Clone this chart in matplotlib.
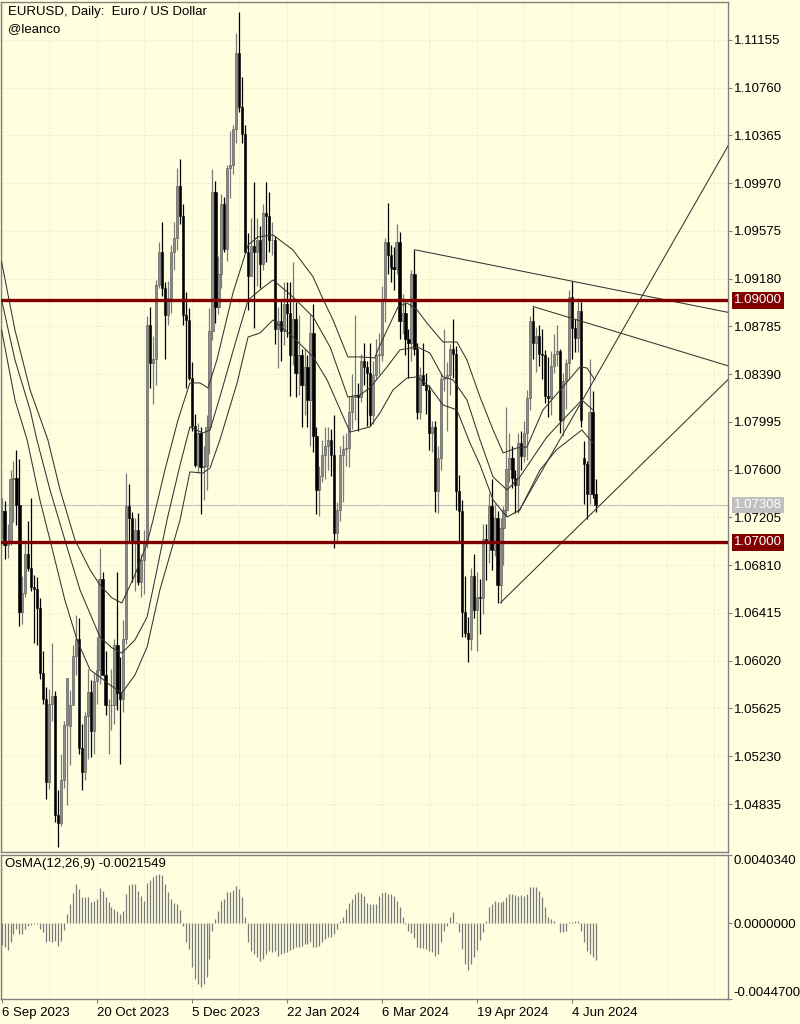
import numpy as np
import matplotlib
matplotlib.use('Agg')
import matplotlib.pyplot as plt
import matplotlib.transforms as mtransforms

plt.rcParams['font.family'] = ['Liberation Sans', 'DejaVu Sans']

# EURUSD daily bars, 6 Sep 2023 .. 14 Jun 2024 (no bars on 25 Dec / 1 Jan)
opens = [
    1.0725, 1.0726, 1.0698, 1.0702, 1.0752, 1.0753, 1.0731, 1.0642, 1.0658, 1.0690,
    1.0679, 1.0663, 1.0661, 1.0646, 1.0592, 1.0570, 1.0502, 1.0566, 1.0573, 1.0474,
    1.0468, 1.0503, 1.0549, 1.0548, 1.0565, 1.0606, 1.0620, 1.0530, 1.0510, 1.0556,
    1.0576, 1.0544, 1.0585, 1.0594, 1.0670, 1.0590, 1.0565, 1.0565, 1.0565, 1.0615,
    1.0575, 1.0570, 1.0620, 1.0730, 1.0720, 1.0700, 1.0710, 1.0667, 1.0685, 1.0700,
    1.0880, 1.0848, 1.0852, 1.0913, 1.0940, 1.0910, 1.0888, 1.0902, 1.0940, 1.0952,
    1.0995, 1.0970, 1.0888, 1.0884, 1.0836, 1.0796, 1.0764, 1.0790, 1.0762, 1.0763,
    1.0795, 1.0875, 1.0990, 1.0895, 1.0922, 1.0980, 1.0943, 1.1010, 1.1012, 1.1042,
    1.1105, 1.1060, 1.1038, 1.0940, 1.0920, 1.0945, 1.0940, 1.0950, 1.0930, 1.0972,
    1.0970, 1.0950, 1.0950, 1.0876, 1.0883, 1.0875, 1.0897, 1.0890, 1.0855, 1.0885,
    1.0840, 1.0855, 1.0830, 1.0845, 1.0818, 1.0873, 1.0788, 1.0743, 1.0755, 1.0772,
    1.0780, 1.0785, 1.0772, 1.0708, 1.0727, 1.0772, 1.0777, 1.0778, 1.0808, 1.0820,
    1.0822, 1.0820, 1.0850, 1.0845, 1.0840, 1.0805, 1.0838, 1.0855, 1.0855, 1.0900,
    1.0948, 1.0938, 1.0928, 1.0926, 1.0948, 1.0883, 1.0890, 1.0868, 1.0865, 1.0922,
    1.0860, 1.0808, 1.0838, 1.0830, 1.0826, 1.0790, 1.0795, 1.0742, 1.0770, 1.0835,
    1.0836, 1.0838, 1.0860, 1.0856, 1.0742, 1.0726, 1.0642, 1.0625, 1.0620, 1.0672,
    1.0644, 1.0655, 1.0654, 1.0703, 1.0699, 1.0730, 1.0694, 1.0720, 1.0665, 1.0712,
    1.0727, 1.0761, 1.0770, 1.0753, 1.0747, 1.0782, 1.0771, 1.0790, 1.0819, 1.0883,
    1.0865, 1.0871, 1.0856, 1.0855, 1.0821, 1.0819, 1.0846, 1.0856, 1.0858, 1.0801,
    1.0833, 1.0848, 1.0903, 1.0877, 1.0869, 1.0891, 1.0770, 1.0765, 1.0740, 1.0808,
    1.0740]
highs = [
    1.0737, 1.0734, 1.0715, 1.0760, 1.0767, 1.0776, 1.0769, 1.0672, 1.0699, 1.0718,
    1.0737, 1.0673, 1.0671, 1.0654, 1.0610, 1.0580, 1.0579, 1.0617, 1.0577, 1.0495,
    1.0525, 1.0552, 1.0588, 1.0578, 1.0615, 1.0640, 1.0637, 1.0550, 1.0560, 1.0595,
    1.0586, 1.0592, 1.0622, 1.0695, 1.0675, 1.0610, 1.0570, 1.0595, 1.0620, 1.0675,
    1.0605, 1.0636, 1.0757, 1.0748, 1.0725, 1.0720, 1.0724, 1.0690, 1.0710, 1.0887,
    1.0895, 1.0871, 1.0917, 1.0948, 1.0965, 1.0915, 1.0916, 1.0946, 1.0965, 1.1010,
    1.1017, 1.0980, 1.0907, 1.0894, 1.0849, 1.0806, 1.0799, 1.0795, 1.0780, 1.0805,
    1.0894, 1.1009, 1.0999, 1.0937, 1.0988, 1.0986, 1.1012, 1.1040, 1.1045, 1.1121,
    1.1139, 1.1085, 1.1045, 1.0956, 1.0968, 1.0998, 1.0968, 1.0962, 1.0980, 1.0998,
    1.0990, 1.0965, 1.0953, 1.0895, 1.0900, 1.0915, 1.0915, 1.0915, 1.0932, 1.0899,
    1.0888, 1.0860, 1.0860, 1.0855, 1.0889, 1.0897, 1.0795, 1.0763, 1.0785, 1.0795,
    1.0795, 1.0794, 1.0805, 1.0733, 1.0780, 1.0789, 1.0790, 1.0821, 1.0839, 1.0888,
    1.0832, 1.0856, 1.0865, 1.0850, 1.0865, 1.0850, 1.0868, 1.0873, 1.0912, 1.0952,
    1.0981, 1.0946, 1.0944, 1.0963, 1.0957, 1.0905, 1.0899, 1.0876, 1.0925, 1.0942,
    1.0865, 1.0845, 1.0865, 1.0840, 1.0830, 1.0800, 1.0800, 1.0780, 1.0840, 1.0876,
    1.0849, 1.0864, 1.0885, 1.0862, 1.0756, 1.0735, 1.0672, 1.0638, 1.0679, 1.0690,
    1.0675, 1.0670, 1.0715, 1.0715, 1.0741, 1.0752, 1.0732, 1.0726, 1.0720, 1.0730,
    1.0812, 1.0790, 1.0780, 1.0760, 1.0790, 1.0792, 1.0800, 1.0826, 1.0887, 1.0895,
    1.0878, 1.0880, 1.0876, 1.0859, 1.0853, 1.0858, 1.0872, 1.0880, 1.0860, 1.0840,
    1.0852, 1.0909, 1.0916, 1.0885, 1.0902, 1.0899, 1.0784, 1.0767, 1.0852, 1.0825,
    1.0752]
lows = [
    1.0703, 1.0686, 1.0687, 1.0698, 1.0717, 1.0714, 1.0631, 1.0632, 1.0655, 1.0676,
    1.0660, 1.0617, 1.0615, 1.0587, 1.0566, 1.0488, 1.0496, 1.0552, 1.0469, 1.0448,
    1.0465, 1.0497, 1.0483, 1.0516, 1.0565, 1.0590, 1.0525, 1.0495, 1.0503, 1.0521,
    1.0522, 1.0525, 1.0566, 1.0583, 1.0590, 1.0557, 1.0525, 1.0545, 1.0550, 1.0561,
    1.0517, 1.0560, 1.0616, 1.0700, 1.0667, 1.0660, 1.0665, 1.0655, 1.0657, 1.0695,
    1.0828, 1.0814, 1.0830, 1.0910, 1.0904, 1.0852, 1.0880, 1.0890, 1.0925, 1.0942,
    1.0963, 1.0880, 1.0828, 1.0834, 1.0792, 1.0762, 1.0757, 1.0723, 1.0735, 1.0743,
    1.0773, 1.0867, 1.0881, 1.0889, 1.0910, 1.0940, 1.0933, 1.0985, 1.1005, 1.1030,
    1.1056, 1.1030, 1.0940, 1.0892, 1.0920, 1.0877, 1.0912, 1.0910, 1.0925, 1.0932,
    1.0940, 1.0938, 1.0864, 1.0844, 1.0850, 1.0863, 1.0870, 1.0821, 1.0847, 1.0820,
    1.0822, 1.0795, 1.0805, 1.0795, 1.0780, 1.0775, 1.0723, 1.0722, 1.0750, 1.0752,
    1.0760, 1.0755, 1.0695, 1.0701, 1.0718, 1.0733, 1.0763, 1.0762, 1.0794, 1.0801,
    1.0792, 1.0816, 1.0830, 1.0796, 1.0796, 1.0798, 1.0835, 1.0839, 1.0850, 1.0882,
    1.0922, 1.0915, 1.0909, 1.0922, 1.0868, 1.0872, 1.0855, 1.0836, 1.0850, 1.0855,
    1.0802, 1.0802, 1.0830, 1.0806, 1.0776, 1.0775, 1.0725, 1.0724, 1.0760, 1.0825,
    1.0792, 1.0822, 1.0836, 1.0727, 1.0701, 1.0622, 1.0622, 1.0601, 1.0611, 1.0637,
    1.0610, 1.0624, 1.0641, 1.0669, 1.0683, 1.0677, 1.0689, 1.0650, 1.0650, 1.0681,
    1.0722, 1.0750, 1.0745, 1.0724, 1.0724, 1.0760, 1.0766, 1.0768, 1.0809, 1.0852,
    1.0841, 1.0846, 1.0835, 1.0815, 1.0804, 1.0805, 1.0840, 1.0846, 1.0790, 1.0788,
    1.0810, 1.0835, 1.0852, 1.0857, 1.0857, 1.0795, 1.0732, 1.0719, 1.0732, 1.0737,
    1.0725]
closes = [
    1.0726, 1.0698, 1.0699, 1.0752, 1.0753, 1.0731, 1.0642, 1.0658, 1.0690, 1.0679,
    1.0663, 1.0661, 1.0646, 1.0592, 1.0570, 1.0502, 1.0566, 1.0573, 1.0474, 1.0468,
    1.0503, 1.0549, 1.0588, 1.0565, 1.0606, 1.0620, 1.0530, 1.0510, 1.0556, 1.0576,
    1.0544, 1.0585, 1.0594, 1.0670, 1.0590, 1.0565, 1.0565, 1.0565, 1.0615, 1.0575,
    1.0570, 1.0620, 1.0730, 1.0720, 1.0700, 1.0710, 1.0667, 1.0685, 1.0700, 1.0880,
    1.0848, 1.0852, 1.0913, 1.0940, 1.0910, 1.0888, 1.0902, 1.0940, 1.0952, 1.0995,
    1.0970, 1.0888, 1.0884, 1.0836, 1.0796, 1.0764, 1.0790, 1.0762, 1.0763, 1.0795,
    1.0875, 1.0990, 1.0895, 1.0922, 1.0980, 1.0943, 1.1010, 1.1012, 1.1042, 1.1105,
    1.1060, 1.1038, 1.0940, 1.0920, 1.0945, 1.0940, 1.0950, 1.0930, 1.0972, 1.0970,
    1.0950, 1.0950, 1.0876, 1.0883, 1.0875, 1.0897, 1.0890, 1.0855, 1.0885, 1.0840,
    1.0855, 1.0830, 1.0845, 1.0818, 1.0873, 1.0788, 1.0743, 1.0755, 1.0772, 1.0780,
    1.0785, 1.0772, 1.0708, 1.0727, 1.0772, 1.0777, 1.0778, 1.0808, 1.0820, 1.0822,
    1.0820, 1.0850, 1.0845, 1.0840, 1.0805, 1.0838, 1.0855, 1.0855, 1.0900, 1.0948,
    1.0938, 1.0928, 1.0926, 1.0948, 1.0883, 1.0890, 1.0868, 1.0865, 1.0922, 1.0860,
    1.0808, 1.0838, 1.0830, 1.0826, 1.0790, 1.0795, 1.0742, 1.0770, 1.0835, 1.0836,
    1.0838, 1.0860, 1.0856, 1.0742, 1.0726, 1.0642, 1.0625, 1.0620, 1.0672, 1.0644,
    1.0655, 1.0654, 1.0703, 1.0699, 1.0730, 1.0694, 1.0720, 1.0665, 1.0712, 1.0727,
    1.0761, 1.0770, 1.0753, 1.0747, 1.0782, 1.0771, 1.0790, 1.0819, 1.0883, 1.0865,
    1.0871, 1.0856, 1.0855, 1.0821, 1.0819, 1.0846, 1.0856, 1.0858, 1.0801, 1.0833,
    1.0848, 1.0903, 1.0877, 1.0869, 1.0891, 1.0801, 1.0765, 1.0740, 1.0808, 1.0740,
    1.07308]

# three band lines (bar index, price)
upper_x = [0, 4.5, 9.6, 15.6, 19.7, 24.7, 29.8, 33.1, 37.2, 40.5, 44.9, 49.0, 51.0, 55.0, 59.4,
           63.4, 66.8, 69.5, 72.5, 77.9, 83.0, 86.3, 91.4, 98.1, 104.9, 107.9, 111.6, 116.6,
           120.7, 125.7, 126.7, 129.8, 133.5, 136.5, 139.9, 143.2, 148.6, 153.3, 156.7, 161.1,
           165.5, 168.9, 173.5, 176.9, 182.3, 189.0, 194.7, 197.1, 199.8]
upper_p = [1.09319, 1.08756, 1.08260, 1.07846, 1.07433, 1.07019, 1.06771, 1.06647, 1.06539,
           1.06498, 1.06730, 1.06994, 1.07185, 1.07598, 1.08012, 1.08318, 1.08318, 1.08277,
           1.08508, 1.09062, 1.09459, 1.09526, 1.09542, 1.09418, 1.09195, 1.09029, 1.08839,
           1.08533, 1.08533, 1.08525, 1.08591, 1.08756, 1.08947, 1.08980, 1.08922, 1.08814,
           1.08657, 1.08657, 1.08508, 1.08202, 1.07929, 1.07739, 1.07780, 1.07788, 1.08095,
           1.08285, 1.08450, 1.08442, 1.08343]
middle_x = [0, 4.5, 9.6, 11.9, 16.3, 21.3, 26.4, 33.1, 37.2, 40.5, 44.9, 49.0, 52.3, 55.7, 60.1,
            63.4, 67.8, 70.2, 73.5, 79.3, 83.0, 87.0, 91.4, 98.1, 104.9, 110.6, 116.6, 120.7,
            124.0, 129.8, 134.1, 139.9, 144.2, 148.6, 152.0, 156.7, 161.1, 165.5, 170.2, 174.5,
            183.6, 189.0, 195.4, 199.1]
middle_p = [1.09004, 1.08508, 1.08095, 1.07846, 1.07433, 1.07019, 1.06606, 1.06217, 1.06126,
            1.06084, 1.06192, 1.06382, 1.06771, 1.07185, 1.07640, 1.07954, 1.07904, 1.07929,
            1.08202, 1.08698, 1.09004, 1.09087, 1.09170, 1.09029, 1.08864, 1.08616, 1.08202,
            1.08219, 1.08277, 1.08450, 1.08591, 1.08616, 1.08566, 1.08368, 1.08343, 1.08177,
            1.07846, 1.07540, 1.07433, 1.07540, 1.07871, 1.08012, 1.08177, 1.08095]
lower_x = [0, 4.5, 8.6, 12.9, 16.3, 21.3, 25.4, 29.8, 33.1, 36.5, 40.5, 44.9, 49.0, 53.3, 60.1,
           63.4, 67.8, 70.2, 73.5, 79.3, 83.0, 87.0, 91.4, 98.1, 104.9, 109.6, 117.3, 124.0,
           127.4, 131.8, 136.5, 139.9, 144.2, 148.6, 153.3, 157.7, 161.1, 165.5, 170.2, 174.5,
           181.3, 186.8, 195.4, 199.1]
lower_p = [1.08756, 1.08177, 1.07846, 1.07350, 1.07019, 1.06523, 1.06192, 1.05944, 1.05886,
           1.05820, 1.05754, 1.05902, 1.06134, 1.06606, 1.07185, 1.07582, 1.07573, 1.07615,
           1.07846, 1.08318, 1.08698, 1.08731, 1.08839, 1.08698, 1.08533, 1.08343, 1.07912,
           1.07954, 1.08070, 1.08260, 1.08359, 1.08368, 1.08285, 1.08136, 1.08095, 1.07822,
           1.07640, 1.07350, 1.07209, 1.07267, 1.07598, 1.07764, 1.07929, 1.07822]

# OsMA(12,26,9) histogram, one value per bar
osma = [
    -0.00130, -0.00142, -0.00158, -0.00112, -0.00063, -0.00033, -0.00063, -0.00063, -0.00033, -0.00014,
    -0.00008, -0.00004, -0.00004, -0.00033, -0.00053, -0.00112, -0.00102, -0.00112, -0.00106, -0.00132,
    -0.00102, -0.00039, 0.00055, 0.00114, 0.00179, 0.00232, 0.00203, 0.00158, 0.00154, 0.00154,
    0.00124, 0.00134, 0.00144, 0.00209, 0.00189, 0.00158, 0.00124, 0.00098, 0.00085, 0.00075,
    0.00055, 0.00075, 0.00173, 0.00226, 0.00232, 0.00232, 0.00193, 0.00163, 0.00134, 0.00238,
    0.00258, 0.00272, 0.00287, 0.00291, 0.00287, 0.00232, 0.00183, 0.00144, 0.00118, 0.00114,
    0.00079, -0.00014, -0.00112, -0.00152, -0.00260, -0.00329, -0.00358, -0.00378, -0.00358, -0.00319,
    -0.00211, -0.00043, 0.00026, 0.00075, 0.00134, 0.00144, 0.00183, 0.00183, 0.00197, 0.00222,
    0.00203, 0.00154, 0.00035, -0.00112, -0.00161, -0.00181, -0.00201, -0.00221, -0.00211, -0.00181,
    -0.00161, -0.00171, -0.00161, -0.00191, -0.00181, -0.00177, -0.00171, -0.00158, -0.00152, -0.00142,
    -0.00142, -0.00132, -0.00122, -0.00122, -0.00112, -0.00142, -0.00142, -0.00132, -0.00112, -0.00093,
    -0.00083, -0.00083, -0.00063, -0.00033, 0.00012, 0.00035, 0.00085, 0.00118, 0.00144, 0.00173,
    0.00183, 0.00177, 0.00163, 0.00118, 0.00114, 0.00114, 0.00114, 0.00163, 0.00177, 0.00183,
    0.00173, 0.00173, 0.00163, 0.00134, 0.00095, 0.00035, -0.00002, -0.00043, -0.00059, -0.00087,
    -0.00142, -0.00146, -0.00146, -0.00152, -0.00161, -0.00167, -0.00191, -0.00181, -0.00112, -0.00043,
    -0.00014, 0.00035, 0.00069, 0.00006, -0.00053, -0.00152, -0.00240, -0.00276, -0.00240, -0.00201,
    -0.00158, -0.00098, -0.00053, 0.00016, 0.00095, 0.00114, 0.00134, 0.00124, 0.00124, 0.00134,
    0.00154, 0.00173, 0.00173, 0.00169, 0.00163, 0.00167, 0.00163, 0.00173, 0.00213, 0.00217,
    0.00213, 0.00193, 0.00154, 0.00095, 0.00035, 0.00026, 0.00016, 0.00000, -0.00053, -0.00053,
    -0.00047, 0.00008, 0.00010, 0.00016, 0.00012, -0.00043, -0.00112, -0.00161, -0.00181, -0.00200,
    -0.0021549]

# trend lines: two anchor points each (bar index, price), drawn as rays to the right
trend_lines = [((139, 1.0942), (192, 1.0916)),
               ((179, 1.0895), (200, 1.08793)),
               ((168, 1.0650), (200, 1.07271)),
               ((174, 1.0725), (200, 1.08365))]

levels = [1.09, 1.07]
last_price = 1.07308

price_ticks = [1.11155, 1.10760, 1.10365, 1.09970, 1.09575, 1.09180, 1.08785, 1.08390,
               1.07995, 1.07600, 1.07205, 1.06810, 1.06415, 1.06020, 1.05625, 1.05230, 1.04835]
date_pos = [0, 32, 64, 96, 128, 160, 192]
date_labels = ['6 Sep 2023', '20 Oct 2023', '5 Dec 2023', '22 Jan 2024',
               '6 Mar 2024', '19 Apr 2024', '4 Jun 2024']
grid_pos = list(range(0, 245, 16))

BG = '#ffffe0'
FRAME = '#808080'
GRID = '#ebebd0'
FS = 9.5

fig = plt.figure(figsize=(8, 10.24), dpi=100, facecolor=BG)
ax = fig.add_axes([1 / 800, 172 / 1024, 727 / 800, 850 / 1024], facecolor=BG)
ax2 = fig.add_axes([1 / 800, 25 / 1024, 727 / 800, 144 / 1024], facecolor=BG)

x = np.arange(len(closes))
o = np.array(opens)
h = np.array(highs)
l = np.array(lows)
c = np.array(closes)
up = c >= o
body_lo = np.minimum(o, c)
body_h = np.maximum(np.abs(c - o), 0.00004)

ax.vlines(x[up], l[up], h[up], color='#7a7a7a', lw=0.9, zorder=2)
ax.vlines(x[~up], l[~up], h[~up], color='black', lw=0.9, zorder=2)
ax.bar(x[up], body_h[up], bottom=body_lo[up], width=0.75, color='#8c8c8c',
       edgecolor='#505050', lw=0.4, zorder=2.5)
ax.bar(x[~up], body_h[~up], bottom=body_lo[~up], width=0.75, color='black',
       edgecolor='black', lw=0.4, zorder=2.5)

for bx, bp in [(upper_x, upper_p), (middle_x, middle_p), (lower_x, lower_p)]:
    ax.plot(bx, bp, color='#333333', lw=0.75, zorder=3)

for (x1, y1), (x2, y2) in trend_lines:
    slope = (y2 - y1) / (x2 - x1)
    x_end = 260
    ax.plot([x1, x_end], [y1, y1 + slope * (x_end - x1)], color='#333333', lw=0.75, zorder=3)

for lv in levels:
    ax.axhline(lv, color='#800000', lw=2.4, zorder=4)
ax.axhline(last_price, color='#c0c0c0', lw=0.8, zorder=1.5)

ax.set_xlim(-0.2, 244.6)
ax.set_ylim(1.04438, 1.11469)
ax.set_yticks(price_ticks)
ax.set_yticklabels(['%.5f' % p for p in price_ticks])
ax.yaxis.tick_right()
ax.tick_params(axis='y', direction='out', length=3, pad=1, labelsize=FS, colors='black')
ax.tick_params(axis='y', color=FRAME)
ax.set_xticks(grid_pos)
ax.tick_params(axis='x', length=0, labelbottom=False)
ax.grid(True, color=GRID, ls=(0, (2, 2)), lw=0.7, zorder=0)
for s in ax.spines.values():
    s.set_color(FRAME)
    s.set_linewidth(1.0)

# price boxes on the right scale
trans = mtransforms.blended_transform_factory(ax.transAxes, ax.transData)
for lv in levels:
    ax.text(1.0 + 6 / 727, lv, '%.5f' % lv, transform=trans, ha='left', va='center',
            fontsize=FS, color='white', zorder=10, clip_on=False,
            bbox=dict(boxstyle='square,pad=0.18', fc='#800000', ec='none'))
ax.text(1.0 + 6 / 727, last_price, '%.5f' % last_price, transform=trans, ha='left',
        va='center', fontsize=FS, color='white', zorder=10, clip_on=False,
        bbox=dict(boxstyle='square,pad=0.18', fc='#c0c0c0', ec='none'))

fig.text(8 / 800, 1 - 12 / 1024, 'EURUSD, Daily:  Euro / US Dollar', fontsize=FS,
         va='center', ha='left')
fig.text(8 / 800, 1 - 29 / 1024, '@leanco', fontsize=FS, va='center', ha='left')

# OsMA panel
ax2.vlines(x, 0, osma, color='#7a7a7a', lw=0.9, zorder=2)
ax2.set_xlim(-0.2, 244.6)
ax2.set_ylim(-0.00447, 0.004034)
osma_ticks = [-0.00447, 0.0, 0.004034]
ax2.set_yticks(osma_ticks)
ax2.set_yticklabels(['-0.0044700', '0.0000000', '0.0040340'])
ax2.yaxis.tick_right()
ax2.tick_params(axis='y', direction='out', length=3, pad=1, labelsize=FS, color=FRAME)
ylabs = ax2.get_yticklabels()
ylabs[0].set_verticalalignment('bottom')
ylabs[2].set_verticalalignment('top')
ax2.set_xticks(date_pos)
ax2.set_xticklabels(date_labels)
for lb in ax2.get_xticklabels():
    lb.set_horizontalalignment('left')
ax2.set_xticks(grid_pos, minor=True)
ax2.tick_params(axis='x', which='major', direction='out', length=3, pad=3, labelsize=FS, color=FRAME)
ax2.tick_params(axis='x', which='minor', length=0)
ax2.grid(True, axis='x', which='both', color=GRID, ls=(0, (2, 2)), lw=0.7, zorder=0)
for s in ax2.spines.values():
    s.set_color(FRAME)
    s.set_linewidth(1.0)
ax2.text(4 / 727, 1 - 9 / 144, 'OsMA(12,26,9) -0.0021549', transform=ax2.transAxes,
         fontsize=FS, ha='left', va='center')

fig.savefig('out.png', dpi=100, facecolor=BG)
